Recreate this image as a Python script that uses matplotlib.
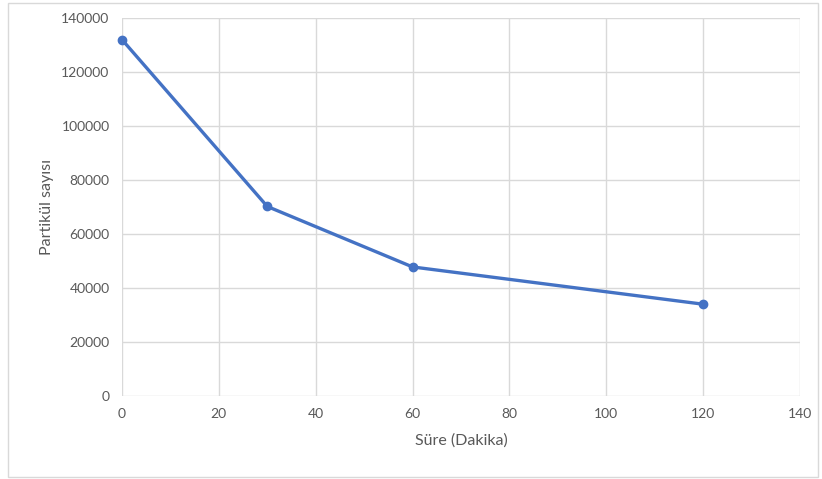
import matplotlib
matplotlib.use("Agg")
import matplotlib.pyplot as plt
from matplotlib.patches import Rectangle

# Particle count over time
sure_dakika = [0, 30, 60, 120]
partikul_sayisi = [132000, 70200, 47800, 34000]

x_ticks = [0, 20, 40, 60, 80, 100, 120, 140]
y_ticks = [0, 20000, 40000, 60000, 80000, 100000, 120000, 140000]

plt.rcParams['font.family'] = ['Lato', 'DejaVu Sans']

fig = plt.figure(figsize=(8.22, 4.79), dpi=100)
ax = fig.add_axes([0.1484, 0.1733, 0.8248, 0.7891])

# chart frame
fig.patches.append(Rectangle((8 / 822, 2 / 479), 810 / 822, 474 / 479,
                             transform=fig.transFigure, fill=False,
                             edgecolor='#d9d9d9', linewidth=1.0))

ax.plot(sure_dakika, partikul_sayisi, color='#4472C4', linewidth=2.4,
        marker='o', markersize=6, solid_capstyle='round', zorder=3,
        clip_on=False)

ax.set_xlim(0, 140)
ax.set_ylim(0, 140000)
ax.set_xticks(x_ticks)
ax.set_yticks(y_ticks)
ax.set_xticklabels([str(v) for v in x_ticks])
ax.set_yticklabels([str(v) for v in y_ticks])

ax.grid(True, color='#d9d9d9', linewidth=1.0)
ax.set_axisbelow(True)
for s in ax.spines.values():
    s.set_visible(False)
ax.tick_params(length=0, labelsize=10, labelcolor='#595959', pad=9)

ax.set_xlabel('Süre (Dakika)', fontsize=11.5, color='#595959', labelpad=9)
ax.set_ylabel('Partikül sayısı', fontsize=11.5, color='#595959', labelpad=5)

fig.savefig('out.png', dpi=100)
